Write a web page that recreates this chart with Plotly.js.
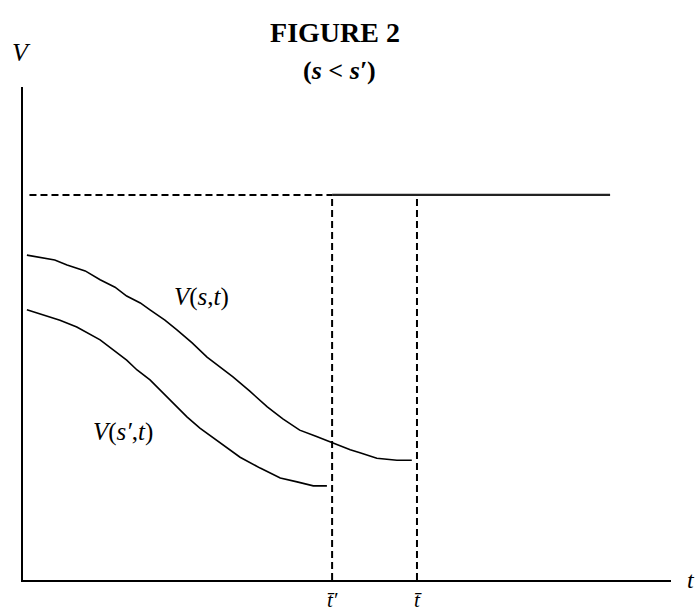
<!DOCTYPE html>
<html>
<head>
<meta charset="utf-8">
<script src="https://cdn.plot.ly/plotly-3.0.1.min.js"></script>
<style>html,body{margin:0;padding:0;background:#fff;}#chart{width:698px;height:611px;}</style>
</head>
<body>
<div id="chart"></div>
<script>
// Conceptual figure: time t (horizontal) vs value V (vertical), arbitrary 0-100 units
var tUpper = [0.6, 2.6, 4.9, 6.8, 9.6, 11.9, 14.2, 16.0, 18.1, 19.6, 21.9, 23.8, 26.1, 28.4, 30.4, 32.4, 35.0, 37.7, 40.1, 42.7, 45.1, 47.7, 50.5, 52.0, 54.6, 57.7, 60.0];
var vUpper = [65.9, 65.5, 64.9, 63.9, 62.7, 60.9, 59.4, 57.6, 56.2, 54.8, 52.7, 50.7, 48.1, 45.2, 43.2, 41.2, 38.3, 35.1, 32.7, 30.4, 29.2, 27.8, 26.4, 25.8, 24.7, 24.3, 24.3];
var tLower = [0.6, 5.7, 8.3, 11.9, 16.0, 17.6, 19.6, 23.1, 25.3, 27.3, 30.4, 33.5, 36.6, 39.7, 42.3, 44.8, 46.9];
var vLower = [54.8, 52.7, 51.3, 48.7, 44.6, 42.6, 40.6, 35.9, 33.1, 30.8, 27.8, 24.9, 22.7, 20.7, 19.9, 19.1, 19.1];
var tBarPrime = 47.7;   // t-bar-prime
var tBar = 60.8;        // t-bar
var vBar = 78.1;        // upper bound level
var tStart = 1.0;
var tEnd = 90.6;
var tickVals = [tBarPrime, tBar];
var tickText = ["<i>t\u0304\u2032</i>", "<i>t\u0304</i>"];
var titleText = "<b>FIGURE 2</b>";
var subtitleText = "<b>(<i>s</i> &lt; <i>s\u2032</i>)</b>";
var curveLabels = ["<i>V</i>(<i>s</i>,<i>t</i>)", "<i>V</i>(<i>s\u2032</i>,<i>t</i>)"];
var curveLabelT = [27.5, 15.4];
var curveLabelV = [57.4, 30.0];

var black = '#000';
var serif = 'Liberation Serif, Times New Roman, serif';
var dashStyle = '7px,4px';

var traces = [
  {x: [tStart, tBarPrime], y: [vBar, vBar], mode: 'lines', line: {color: black, width: 2, dash: dashStyle}},
  {x: [tBarPrime, tEnd], y: [vBar, vBar], mode: 'lines', line: {color: '#222', width: 2.3}},
  {x: [tBarPrime, tBarPrime], y: [0, vBar], mode: 'lines', line: {color: black, width: 2, dash: dashStyle}},
  {x: [tBar, tBar], y: [0, vBar], mode: 'lines', line: {color: black, width: 2, dash: dashStyle}},
  {x: tUpper, y: vUpper, mode: 'lines', line: {color: black, width: 1.6}},
  {x: tLower, y: vLower, mode: 'lines', line: {color: black, width: 1.6}}
];

var layout = {
  width: 698, height: 611,
  margin: {l: 23, r: 27, t: 87, b: 31, pad: 0},
  paper_bgcolor: '#fff', plot_bgcolor: '#fff',
  showlegend: false,
  font: {family: serif, color: black},
  title: {
    text: titleText,
    font: {family: serif, size: 28, color: black},
    x: 0.48, xanchor: 'center', xref: 'container',
    y: 1 - 32/611, yanchor: 'middle', yref: 'container'
  },
  xaxis: {
    range: [0, 100], showgrid: false, zeroline: false,
    showline: true, linecolor: black, linewidth: 2,
    tickmode: 'array', tickvals: tickVals, ticktext: tickText,
    ticks: '', tickfont: {family: serif, size: 21, color: black},
    fixedrange: true
  },
  yaxis: {
    range: [0, 100], showgrid: false, zeroline: false,
    showline: true, linecolor: black, linewidth: 2,
    showticklabels: false, ticks: '', fixedrange: true
  },
  annotations: [
    {text: subtitleText, xref: 'paper', yref: 'paper', x: 0.489, y: 1.0325, xanchor: 'center', yanchor: 'middle', showarrow: false, font: {family: serif, size: 26, color: black}},
    {text: '<i>V</i>', xref: 'paper', yref: 'paper', x: -0.003, y: 1.069, xanchor: 'center', yanchor: 'middle', showarrow: false, font: {family: serif, size: 26, color: black}},
    {text: '<i>t</i>', xref: 'paper', yref: 'paper', x: 1.022, y: 0.0, xanchor: 'left', yanchor: 'middle', showarrow: false, font: {family: serif, size: 24, color: black}},
    {text: curveLabels[0], xref: 'x', yref: 'y', x: curveLabelT[0], y: curveLabelV[0], xanchor: 'center', yanchor: 'middle', showarrow: false, font: {family: serif, size: 25, color: black}},
    {text: curveLabels[1], xref: 'x', yref: 'y', x: curveLabelT[1], y: curveLabelV[1], xanchor: 'center', yanchor: 'middle', showarrow: false, font: {family: serif, size: 25, color: black}}
  ]
};

Plotly.newPlot('chart', traces, layout, {displayModeBar: false, staticPlot: true});
</script>
</body>
</html>
